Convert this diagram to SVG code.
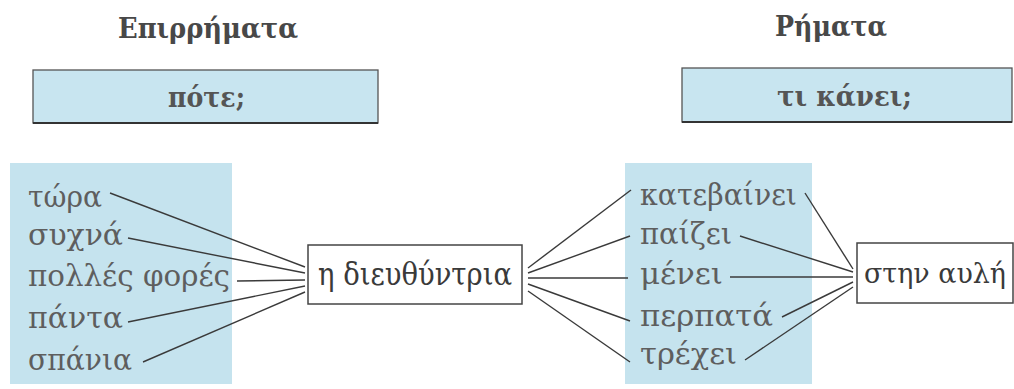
<svg xmlns="http://www.w3.org/2000/svg" width="1014" height="389" viewBox="0 0 1014 389">
<style>
.panel{fill:#c5e3ee}
.hbox{fill:#c8e5f0;stroke:#555;stroke-width:1.3}
.box{fill:#fff;stroke:#444;stroke-width:1.5}
.title{font-family:"DejaVu Serif","Liberation Serif",serif;font-weight:bold;font-size:27px;fill:#484848}
.q{font-family:"DejaVu Serif","Liberation Serif",serif;font-weight:bold;font-size:27px;fill:#555}
.w{font-family:"DejaVu Serif","Liberation Serif",serif;font-size:30px;fill:#5e5e5e}
.n{font-family:"DejaVu Serif","Liberation Serif",serif;font-size:31px;fill:#3a3a3a}
.c line{stroke:#3a3a3a;stroke-width:1.4}
</style>
<rect width="1014" height="389" fill="#fff"/>
<g id="title-left"><text class="title" x="118" y="38" textLength="180" lengthAdjust="spacingAndGlyphs">Επιρρήματα</text></g>
<g id="title-right"><text class="title" x="775" y="36" textLength="112" lengthAdjust="spacingAndGlyphs">Ρήματα</text></g>
<g id="q-left"><rect class="hbox" x="33" y="70" width="345" height="53"/><line x1="33" y1="123" x2="378" y2="123" stroke="#333" stroke-width="2"/><text class="q" x="168" y="107" textLength="77" lengthAdjust="spacingAndGlyphs">πότε;</text></g>
<g id="q-right"><rect class="hbox" x="682" y="68" width="330" height="54"/><line x1="682" y1="122" x2="1012" y2="122" stroke="#333" stroke-width="2"/><text class="q" x="777" y="106" textLength="135" lengthAdjust="spacingAndGlyphs">τι κάνει;</text></g>
<g id="panel-left"><rect class="panel" x="10" y="163" width="222" height="221"/>
<text class="w" x="28" y="207" textLength="74" lengthAdjust="spacingAndGlyphs">τώρα</text>
<text class="w" x="28" y="245" textLength="95" lengthAdjust="spacingAndGlyphs">συχνά</text>
<text class="w" x="28" y="286" textLength="202" lengthAdjust="spacingAndGlyphs">πολλές φορές</text>
<text class="w" x="28" y="328" textLength="95" lengthAdjust="spacingAndGlyphs">πάντα</text>
<text class="w" x="28" y="370" textLength="104" lengthAdjust="spacingAndGlyphs">σπάνια</text>
</g>
<g id="panel-right"><rect class="panel" x="625" y="163" width="187" height="221"/>
<text class="w" x="640" y="205" textLength="157" lengthAdjust="spacingAndGlyphs">κατεβαίνει</text>
<text class="w" x="640" y="244" textLength="92" lengthAdjust="spacingAndGlyphs">παίζει</text>
<text class="w" x="640" y="284" textLength="83" lengthAdjust="spacingAndGlyphs">μένει</text>
<text class="w" x="640" y="326" textLength="133" lengthAdjust="spacingAndGlyphs">περπατά</text>
<text class="w" x="640" y="364" textLength="97" lengthAdjust="spacingAndGlyphs">τρέχει</text>
</g>
<g id="node-subject"><rect class="box" x="308" y="245" width="214" height="59"/><text class="n" x="318" y="285" textLength="194" lengthAdjust="spacingAndGlyphs">η διευθύντρια</text></g>
<g id="node-place"><rect class="box" x="857" y="243" width="156" height="60"/><text class="n" x="864" y="283" style="font-size:28px" textLength="142" lengthAdjust="spacingAndGlyphs">στην αυλή</text></g>
<g id="connectors" class="c">
<line x1="110" y1="193" x2="305" y2="267"/>
<line x1="128" y1="238" x2="305" y2="273"/>
<line x1="237" y1="281" x2="305" y2="280"/>
<line x1="128" y1="322" x2="305" y2="286"/>
<line x1="143" y1="362" x2="305" y2="292"/>
<line x1="528" y1="268" x2="631" y2="190"/>
<line x1="528" y1="273" x2="630" y2="236"/>
<line x1="528" y1="278" x2="628" y2="278"/>
<line x1="528" y1="284" x2="630" y2="321"/>
<line x1="528" y1="291" x2="630" y2="362"/>
<line x1="805" y1="193" x2="853" y2="269"/>
<line x1="740" y1="236" x2="853" y2="272"/>
<line x1="730" y1="277" x2="853" y2="277"/>
<line x1="782" y1="317" x2="853" y2="282"/>
<line x1="745" y1="360" x2="853" y2="287"/>
</g>
</svg>
